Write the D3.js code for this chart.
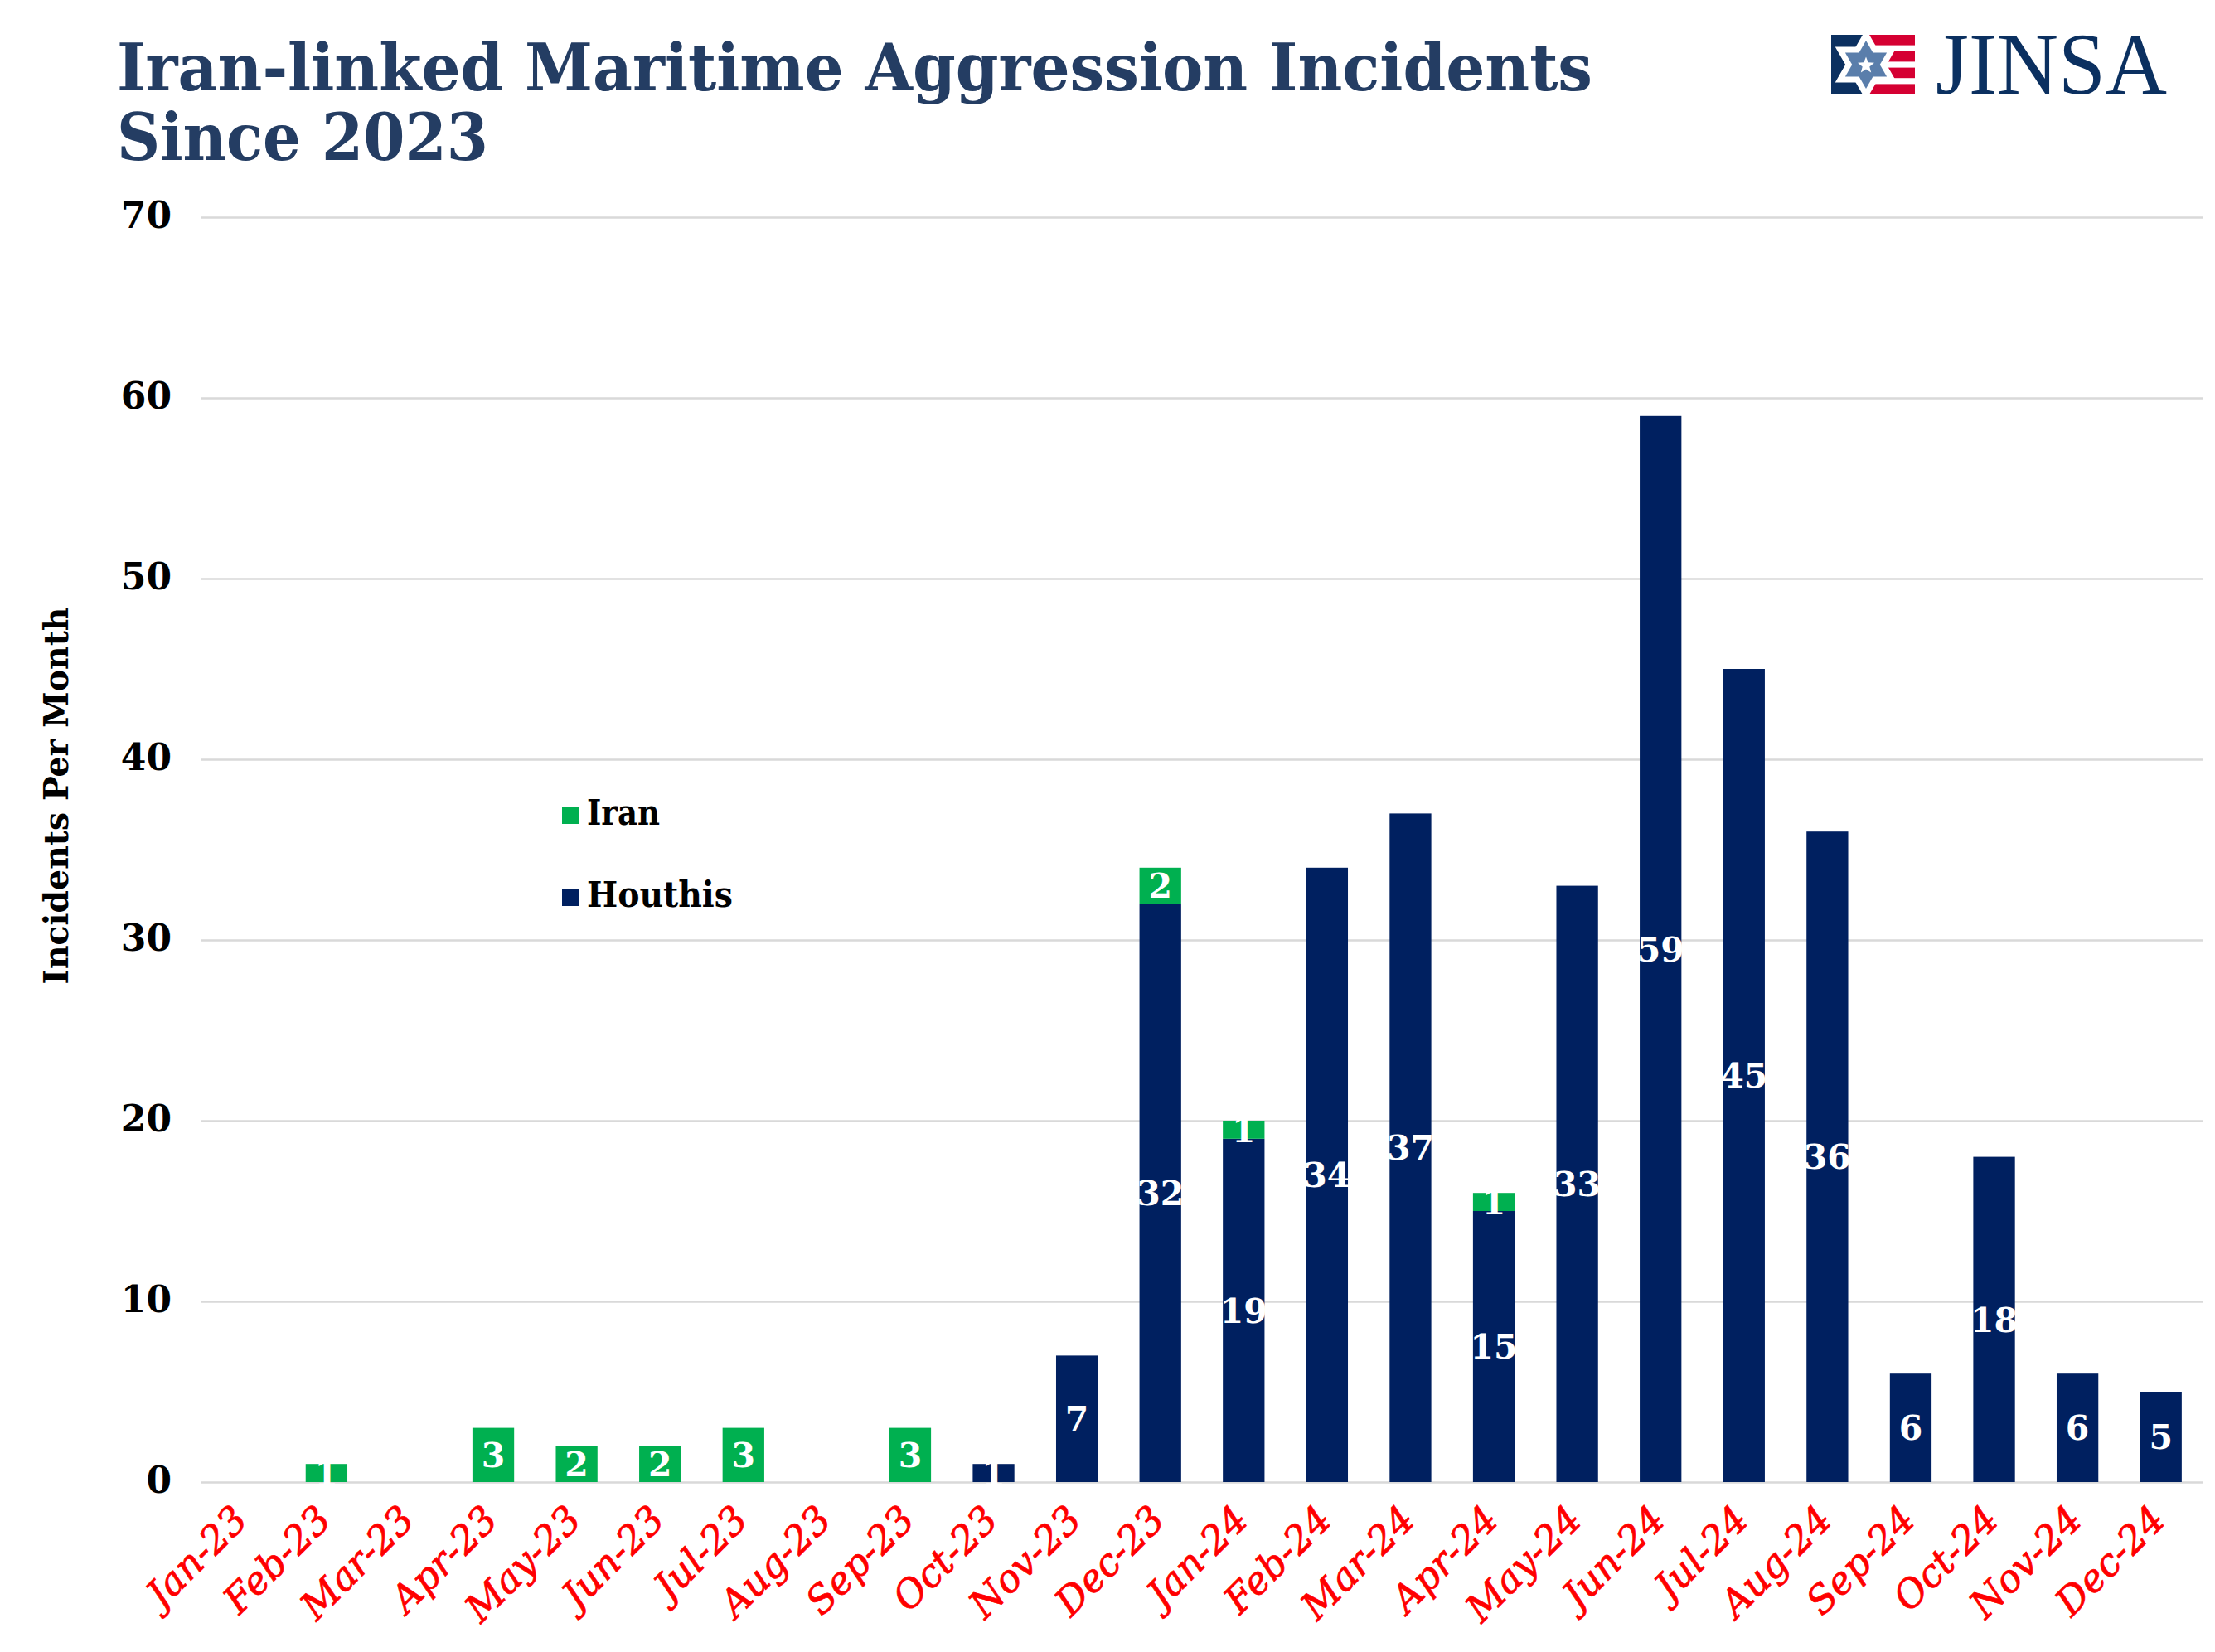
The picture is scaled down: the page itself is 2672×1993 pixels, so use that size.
<!DOCTYPE html>
<html>
<head>
<meta charset="utf-8">
<script src="https://cdn.jsdelivr.net/npm/d3@7"></script>
<style>
  html, body { margin: 0; padding: 0; background: #ffffff; }
  svg { display: block; }
</style>
</head>
<body>
<svg id="chart" width="2672" height="1993"></svg>
<script>
// ---------------- DATA ----------------
const months = ["Jan-23","Feb-23","Mar-23","Apr-23","May-23","Jun-23","Jul-23","Aug-23","Sep-23","Oct-23","Nov-23","Dec-23",
                "Jan-24","Feb-24","Mar-24","Apr-24","May-24","Jun-24","Jul-24","Aug-24","Sep-24","Oct-24","Nov-24","Dec-24"];
const houthis = [0,0,0,0,0,0,0,0,0,1,7,32,19,34,37,15,33,59,45,36,6,18,6,5];
const iran    = [0,1,0,3,2,2,3,0,3,0,0,2,1,0,0,1,0,0,0,0,0,0,0,0];
const yTicks  = [0,10,20,30,40,50,60,70];
const seriesKeys   = ["Houthis","Iran"];
const legendKeys   = ["Iran","Houthis"];
const seriesColors = {"Iran":"#00b050","Houthis":"#002060"};
const titleLines = ["Iran-linked Maritime Aggression Incidents","Since 2023"];
const yTitle = "Incidents Per Month";
const logoText = "JINSA";

// ---------------- LAYOUT ----------------
const plot = {left: 243, right: 2657, top: 262, bottom: 1788};
const svg = d3.select("#chart");
const serif = "'DejaVu Serif', 'Liberation Serif', serif";

function fitText(sel, target) {
  const node = sel.node();
  const len = node.getComputedTextLength();
  if (Math.abs(len - target) > 2) {
    sel.attr("textLength", target).attr("lengthAdjust", "spacingAndGlyphs");
  }
}

// ---------------- SCALES ----------------
const x = d3.scaleBand().domain(months).range([plot.left, plot.right])
  .paddingInner(0.5).paddingOuter(0.25);
const y = d3.scaleLinear().domain([0, 70]).range([plot.bottom, plot.top]);

// ---------------- TITLE ----------------
const titleT = svg.append("text")
  .attr("font-family", serif).attr("font-weight", "bold")
  .attr("font-size", 78).attr("fill", "#243d63");
titleLines.forEach((t, i) => {
  const ts = titleT.append("tspan").attr("x", 141).attr("y", 109 + i * 84).text(t);
  const len = ts.node().getComputedTextLength();
  const target = i === 0 ? 1780 : 448;
  if (Math.abs(len - target) > 2) ts.attr("textLength", target).attr("lengthAdjust", "spacingAndGlyphs");
});

// ---------------- LOGO ----------------
const logo = svg.append("g");
const lx = 2209, ly = 42, lw = 101, lh = 72;
logo.append("rect").attr("x", lx).attr("y", ly).attr("width", 44).attr("height", lh).attr("fill", "#0b3060");
const stripeYs = [42, 61.8, 81.6, 101.4];
stripeYs.forEach(sy => {
  logo.append("rect").attr("x", 2253).attr("y", sy).attr("width", lx + lw - 2253).attr("height", 12.6).attr("fill", "#d50032");
});
const scx = 2251, scy = 78, sr = 31;
function tri(r, up) {
  const pts = [];
  for (let k = 0; k < 3; k++) {
    const a = (up ? -90 : 90) + k * 120;
    pts.push([scx + r * Math.cos(a * Math.PI / 180), scy + r * Math.sin(a * Math.PI / 180)]);
  }
  return pts.map(p => p.join(",")).join(" ");
}
[true, false].forEach(up => logo.append("polygon").attr("points", tri(sr, up))
  .attr("fill", "#ffffff").attr("stroke", "#ffffff").attr("stroke-width", 12).attr("stroke-linejoin", "miter"));
[true, false].forEach(up => logo.append("polygon").attr("points", tri(sr - 2, up)).attr("fill", "#5a7eab"));
const star5 = [];
for (let k = 0; k < 10; k++) {
  const r = k % 2 === 0 ? 10.5 : 4.5;
  const a = -90 + k * 36;
  star5.push([scx + r * Math.cos(a * Math.PI / 180), scy + 1 + r * Math.sin(a * Math.PI / 180)].join(","));
}
logo.append("polygon").attr("points", star5.join(" ")).attr("fill", "#ffffff");
const jt = logo.append("text").attr("x", 2335).attr("y", 113)
  .attr("font-family", "'Liberation Serif', serif").attr("font-size", 106)
  .attr("fill", "#0b3060").text(logoText);
fitText(jt, 279);

// ---------------- GRID / Y AXIS ----------------
const yAxis = d3.axisLeft(y).tickValues(yTicks).tickSize(-(plot.right - plot.left)).tickPadding(36);
const yg = svg.append("g").attr("transform", `translate(${plot.left},0)`).call(yAxis);
yg.select(".domain").remove();
yg.selectAll(".tick line").attr("stroke", "#d9d9d9").attr("stroke-width", 2.5);
yg.selectAll(".tick text")
  .attr("font-family", serif).attr("font-weight", "bold").attr("font-size", 44)
  .attr("fill", "#000000").attr("dy", "0.28em");

// Y title
const yt = svg.append("text")
  .attr("transform", `translate(82,960) rotate(-90)`)
  .attr("text-anchor", "middle")
  .attr("font-family", serif).attr("font-weight", "bold").attr("font-size", 41)
  .attr("fill", "#000000").text(yTitle);
fitText(yt, 455);

// ---------------- BARS ----------------
const table = months.map((m, i) => ({month: m, Houthis: houthis[i], Iran: iran[i]}));
const stack = d3.stack().keys(seriesKeys)(table);

const barsG = svg.append("g");
stack.forEach(layer => {
  const key = layer.key;
  barsG.append("g").selectAll("rect")
    .data(layer.filter(d => d[1] - d[0] > 0))
    .join("rect")
    .attr("x", d => x(d.data.month))
    .attr("width", x.bandwidth())
    .attr("y", d => y(d[1]))
    .attr("height", d => y(d[0]) - y(d[1]))
    .attr("fill", seriesColors[key]);
});

// data labels
const labelsG = svg.append("g");
stack.forEach(layer => {
  labelsG.append("g").selectAll("text")
    .data(layer.filter(d => d[1] - d[0] > 0))
    .join("text")
    .attr("x", d => x(d.data.month) + x.bandwidth() / 2)
    .attr("y", d => y((d[0] + d[1]) / 2))
    .attr("dy", "0.36em")
    .attr("text-anchor", "middle")
    .attr("font-family", serif).attr("font-weight", "bold").attr("font-size", 41)
    .attr("fill", "#ffffff")
    .text(d => d[1] - d[0]);
});

// ---------------- X AXIS ----------------
const xAxis = d3.axisBottom(x).tickSize(0);
const xg = svg.append("g").attr("transform", `translate(0,${plot.bottom})`).call(xAxis);
xg.select(".domain").remove();
xg.selectAll(".tick text")
  .attr("x", 0).attr("y", 0).attr("dy", 0)
  .attr("transform", "translate(8,48) rotate(-45)")
  .style("text-anchor", "end")
  .attr("font-family", serif).attr("font-style", "italic").attr("font-size", 46)
  .attr("stroke", "#ff0000").attr("stroke-width", 0.8)
  .attr("fill", "#ff0000");

// ---------------- LEGEND ----------------
const legend = svg.append("g");
legendKeys.forEach((k, i) => {
  const gy = 974 + i * 99;
  legend.append("rect").attr("x", 678).attr("y", gy).attr("width", 20).attr("height", 20).attr("fill", seriesColors[k]);
  const lt = legend.append("text").attr("x", 708).attr("y", gy + 21)
    .attr("font-family", serif).attr("font-weight", "bold").attr("font-size", 42)
    .attr("fill", "#000000").text(k);
  fitText(lt, k === "Iran" ? 88 : 176);
});
</script>
</body>
</html>
